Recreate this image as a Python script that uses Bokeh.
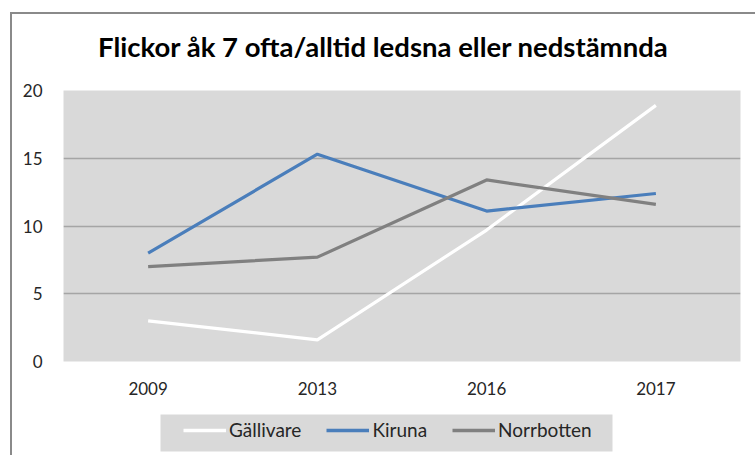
import numpy as np
from bokeh.plotting import figure
from bokeh.models import Legend, LegendItem, FactorRange, Range1d, BoxAnnotation, Label
from bokeh.layouts import column
from bokeh.embed import file_html
from bokeh.resources import INLINE

years = ["2009", "2013", "2016", "2017"]
gallivare = [3.0, 1.6, 9.7, 18.9]
kiruna = [8.0, 15.3, 11.1, 12.4]
norrbotten = [7.0, 7.7, 13.4, 11.6]
y_ticks = [0, 5, 10, 15, 20]
series_names = ["Gällivare", "Kiruna", "Norrbotten"]
title_text = "Flickor åk 7 ofta/alltid ledsna eller nedstämnda"

FONT = "Lato"
COLORS = ["white", "#4a7ebb", "#808080"]
W = 743
FRAME_W = 677


def strip(height):
    f = figure(width=W, height=height, x_range=Range1d(0, FRAME_W), y_range=Range1d(0, height),
               x_axis_type=None, y_axis_type=None, output_backend="svg",
               toolbar_location=None, min_border=0,
               min_border_left=51, min_border_right=15, min_border_top=0, min_border_bottom=0)
    f.outline_line_color = None
    f.background_fill_color = "white"
    f.border_fill_color = "white"
    return f


# title strip
p0 = strip(62)
p0.add_layout(Label(x=320, y=30, text=title_text, text_align="center",
                    text_baseline="alphabetic", text_font=FONT, text_font_size="27.5px",
                    text_font_style="bold", text_color="black"))

# main chart
p = figure(width=W, height=328, x_range=FactorRange(*years, range_padding=0),
           y_range=Range1d(0, 20), output_backend="svg", toolbar_location=None,
           min_border_left=51, min_border_right=15, min_border_top=14, min_border_bottom=43)
p.background_fill_color = "#d9d9d9"
p.border_fill_color = "white"
p.outline_line_color = None

for vals, col in zip([gallivare, kiruna, norrbotten], COLORS):
    p.line(years, vals, line_color=col, line_width=3.2)

for ax in (p.xaxis[0], p.yaxis[0]):
    ax.axis_line_color = None
    ax.major_tick_line_color = None
    ax.minor_tick_line_color = None
    ax.major_label_text_font = FONT
    ax.major_label_text_font_size = "17px"
    ax.major_label_text_color = "#262626"
p.yaxis.ticker = y_ticks
p.xaxis.major_label_standoff = 14
p.yaxis.major_label_standoff = 15

p.xgrid.grid_line_color = None
p.ygrid.grid_line_color = "#a5a5a5"
p.ygrid.grid_line_width = 1.5

# legend strip
p2 = strip(51)
p2.add_layout(BoxAnnotation(left=97, right=549, bottom=4, top=41,
                            fill_color="#d9d9d9", fill_alpha=1, line_color=None))
dummies = [p2.line([np.nan], [np.nan], line_color=c, line_width=3.5) for c in COLORS]
legend = Legend(items=[LegendItem(label=n, renderers=[r]) for n, r in zip(series_names, dummies)],
                orientation="horizontal", location=(120, 14),
                background_fill_alpha=0, border_line_color=None,
                label_text_font=FONT, label_text_font_size="19px",
                label_text_color="#262626",
                glyph_width=43, glyph_height=20, label_height=20, label_standoff=3,
                spacing=25, padding=0, margin=0)
p2.add_layout(legend, "center")

layout = column(p0, p, p2, spacing=0)
layout.margin = (12, 0, 0, 10)
layout.styles = {"border-left": "2px solid #8a8a8a", "border-top": "2px solid #8a8a8a"}

open("out.html", "w").write(file_html(layout, INLINE))
